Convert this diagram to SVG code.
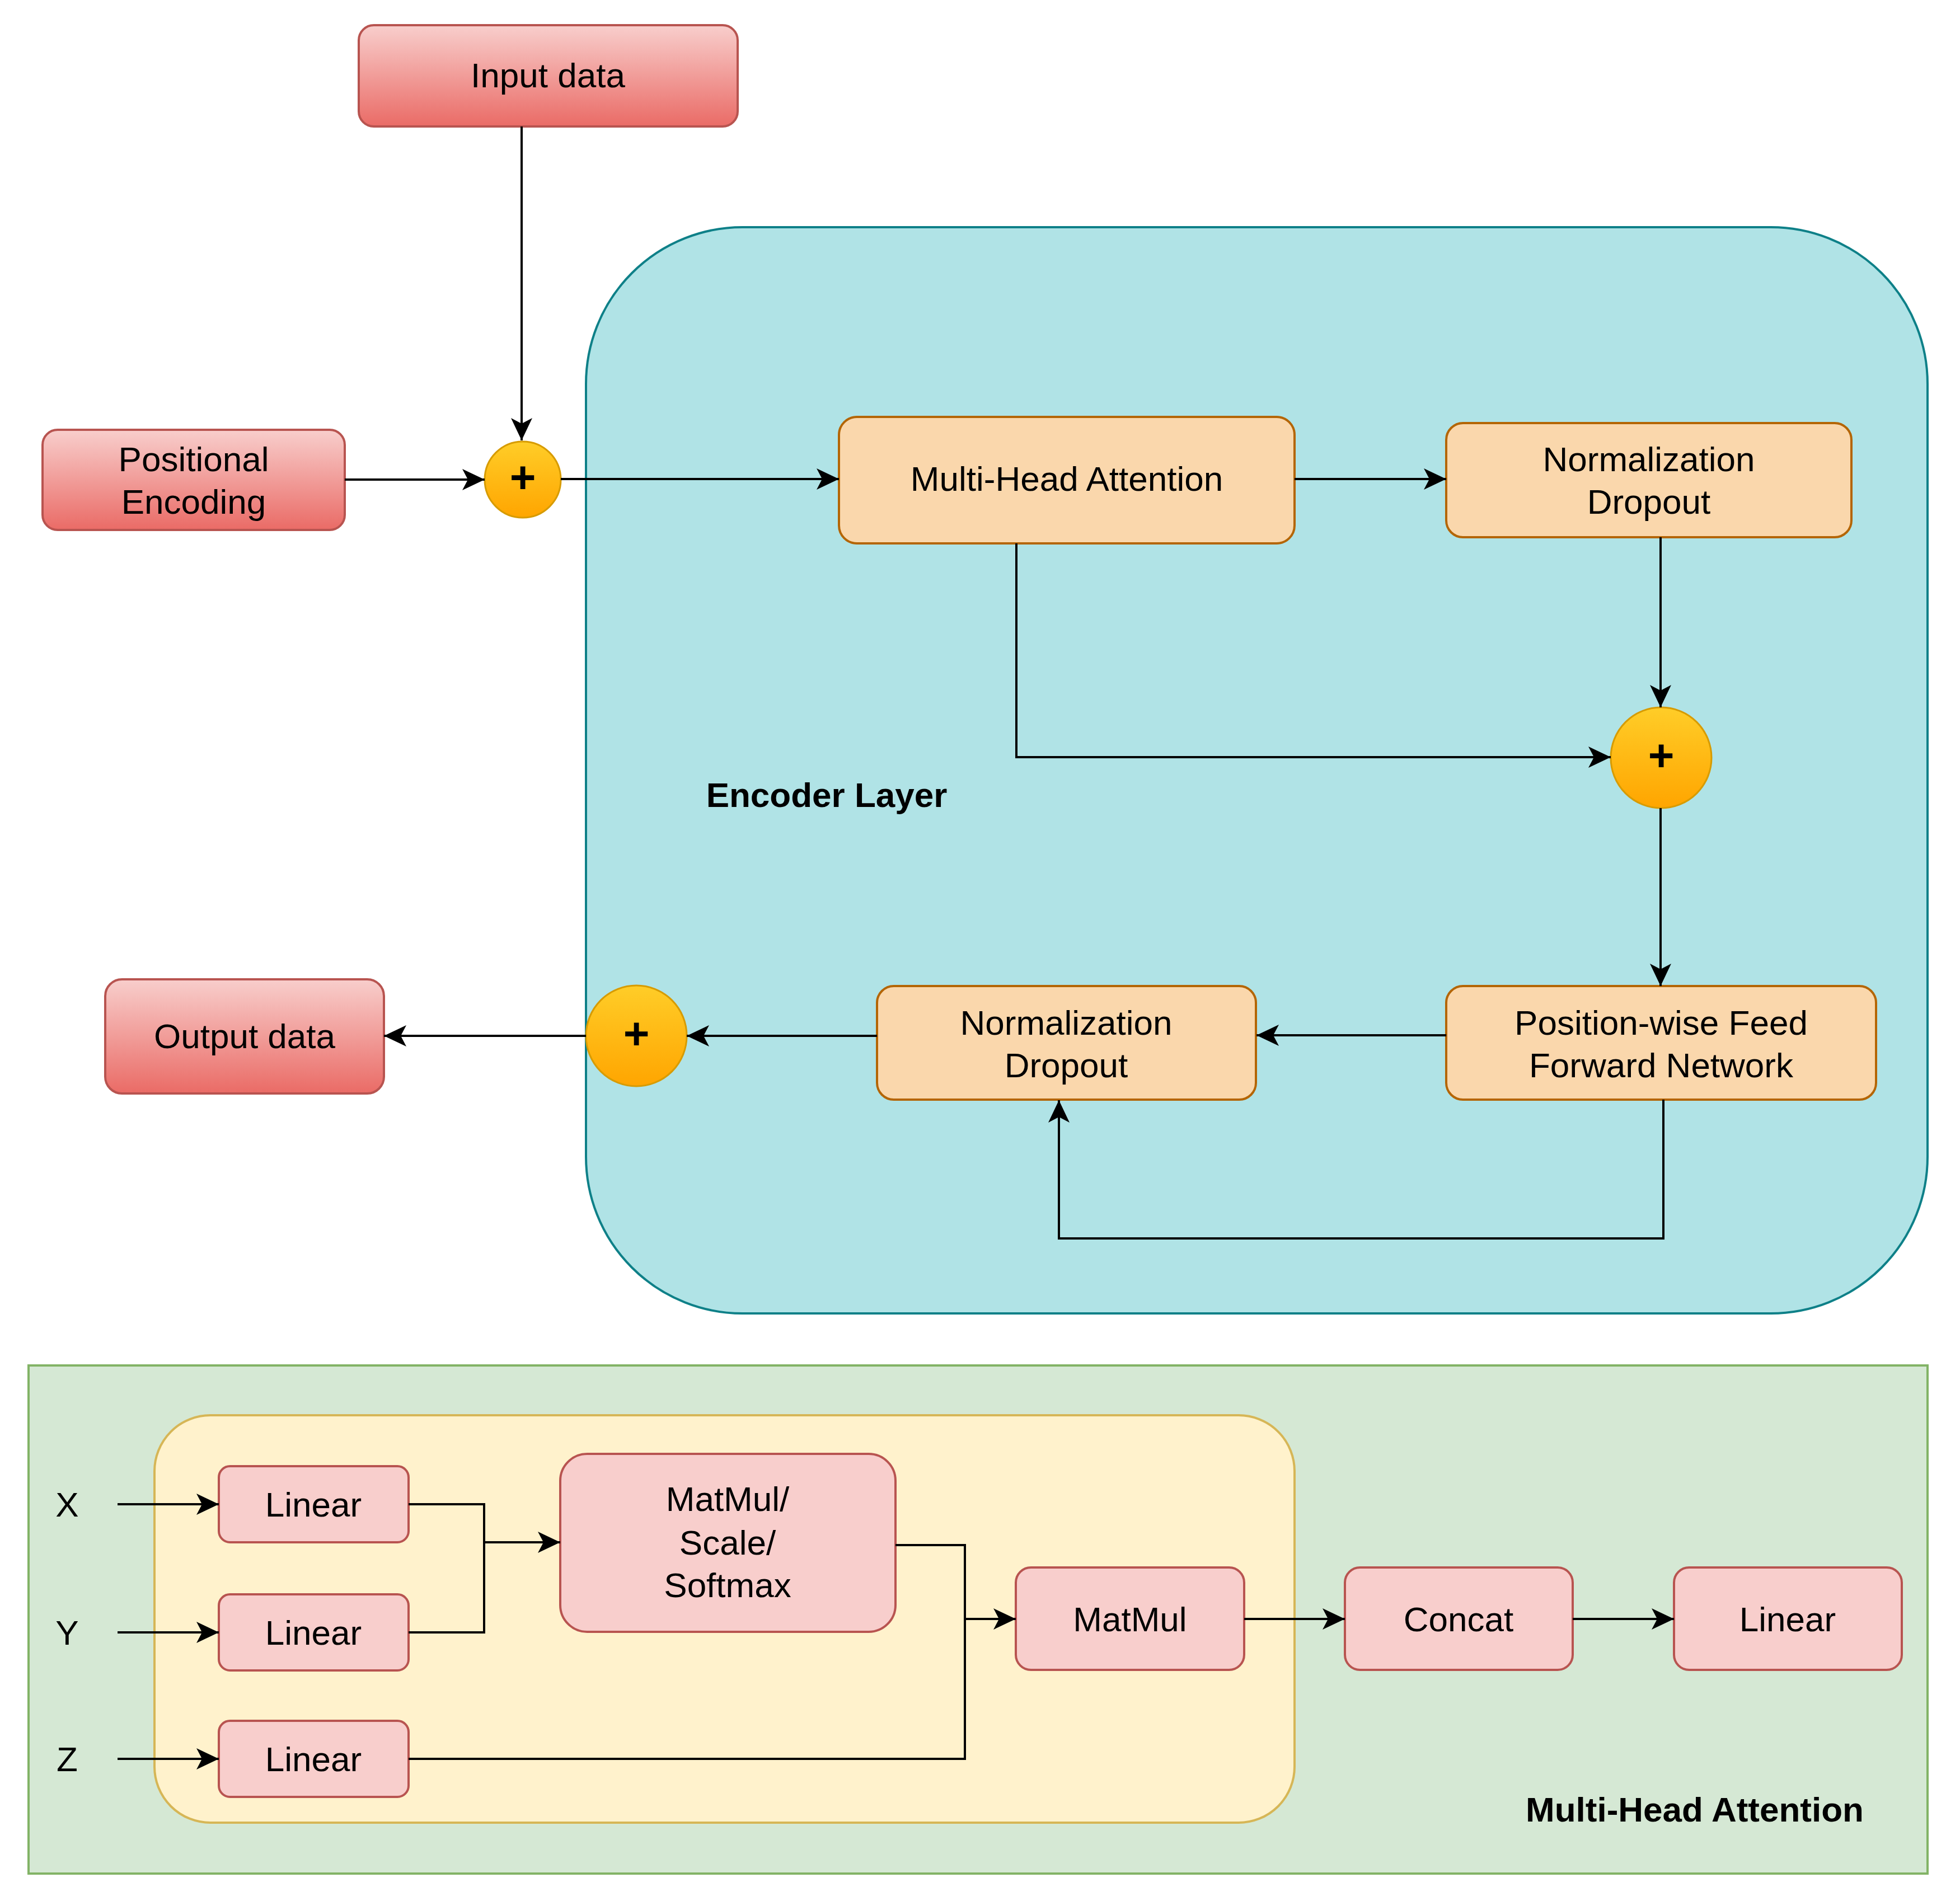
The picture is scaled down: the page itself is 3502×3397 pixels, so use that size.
<svg xmlns="http://www.w3.org/2000/svg" width="3502" height="3397" viewBox="0 0 3502 3397">
<style>
text{font-family:"Liberation Sans",Arial,sans-serif;font-size:62px;fill:#000;text-anchor:middle}
.b{font-weight:bold}
.plus{font-size:80px;font-weight:bold}
.red{fill:url(#gRed);stroke:#b85450;stroke-width:4}
.pink{fill:#f8cecc;stroke:#b85450;stroke-width:4}
.org{fill:#fad7ac;stroke:#b46504;stroke-width:4}
.add{fill:url(#gAdd);stroke:#d79b00;stroke-width:3}
.ln{fill:none;stroke:#000;stroke-width:4}
.ar{marker-end:url(#arr)}
</style>
<defs>
<linearGradient id="gRed" x1="0" y1="0" x2="0" y2="1"><stop offset="0" stop-color="#f8cecc"/><stop offset="1" stop-color="#ea6b66"/></linearGradient>
<linearGradient id="gAdd" x1="0" y1="0" x2="0" y2="1"><stop offset="0" stop-color="#ffcd28"/><stop offset="1" stop-color="#ffa500"/></linearGradient>
<marker id="arr" markerUnits="userSpaceOnUse" markerWidth="44" markerHeight="40" refX="40" refY="19" orient="auto"><path d="M0,0 L40,19 L0,38 L10,19 Z" fill="#000"/></marker>
</defs>
<rect width="3502" height="3397" fill="#fff"/>

<g id="encoder-layer">
<rect x="1047" y="406" width="2397" height="1941" rx="280" ry="280" fill="#b0e3e6" stroke="#0e8088" stroke-width="4"/>
<text class="b" x="1477" y="1442">Encoder Layer</text>
</g>

<g id="mha-panel">
<rect x="51" y="2440" width="3393" height="908" fill="#d5e8d4" stroke="#82b366" stroke-width="4"/>
<rect x="276" y="2529" width="2037" height="728" rx="100" ry="100" fill="#fff2cc" stroke="#d6b656" stroke-width="4"/>
<text class="b" x="3028" y="3255">Multi-Head Attention</text>
</g>

<g id="input-data"><rect class="red" x="641" y="45" width="677" height="181" rx="27"/><text x="979" y="156">Input data</text></g>
<g id="positional-encoding"><rect class="red" x="76" y="768" width="540" height="179" rx="27"/><text x="346" y="842">Positional</text><text x="346" y="918">Encoding</text></g>
<g id="add-1"><circle class="add" cx="934" cy="857" r="68"/><text class="plus" x="934" y="880">+</text></g>
<g id="multi-head-attention"><rect class="org" x="1499" y="745" width="814" height="226" rx="32"/><text x="1906" y="877">Multi-Head Attention</text></g>
<g id="norm-dropout-1"><rect class="org" x="2584" y="756" width="724" height="204" rx="30"/><text x="2946" y="842">Normalization</text><text x="2946" y="918">Dropout</text></g>
<g id="add-2"><circle class="add" cx="2968" cy="1354" r="90"/><text class="plus" x="2968" y="1377">+</text></g>
<g id="ffn"><rect class="org" x="2584" y="1762" width="768" height="203" rx="30"/><text x="2968" y="1849">Position-wise Feed</text><text x="2968" y="1925">Forward Network</text></g>
<g id="norm-dropout-2"><rect class="org" x="1567" y="1762" width="677" height="203" rx="30"/><text x="1905" y="1849">Normalization</text><text x="1905" y="1925">Dropout</text></g>
<g id="add-3"><circle class="add" cx="1137" cy="1851" r="90"/><text class="plus" x="1137" y="1874">+</text></g>
<g id="output-data"><rect class="red" x="188" y="1750" width="498" height="204" rx="30"/><text x="437" y="1873">Output data</text></g>

<g id="label-x"><text x="120" y="2710">X</text></g>
<g id="label-y"><text x="120" y="2939">Y</text></g>
<g id="label-z"><text x="120" y="3165">Z</text></g>
<g id="linear-x"><rect class="pink" x="391" y="2620" width="339" height="136" rx="20"/><text x="560" y="2710">Linear</text></g>
<g id="linear-y"><rect class="pink" x="391" y="2849" width="339" height="136" rx="20"/><text x="560" y="2939">Linear</text></g>
<g id="linear-z"><rect class="pink" x="391" y="3075" width="339" height="136" rx="20"/><text x="560" y="3165">Linear</text></g>
<g id="matmul-scale-softmax"><rect class="pink" x="1001" y="2598" width="599" height="318" rx="48"/><text x="1300" y="2700">MatMul/</text><text x="1300" y="2778">Scale/</text><text x="1300" y="2854">Softmax</text></g>
<g id="matmul"><rect class="pink" x="1815" y="2801" width="408" height="183" rx="27"/><text x="2019" y="2915">MatMul</text></g>
<g id="concat"><rect class="pink" x="2403" y="2801" width="407" height="183" rx="27"/><text x="2606" y="2915">Concat</text></g>
<g id="linear-out"><rect class="pink" x="2991" y="2801" width="407" height="183" rx="27"/><text x="3194" y="2915">Linear</text></g>

<g id="connectors">
<path class="ln ar" d="M932,226 V787"/>
<path class="ln ar" d="M616,857 H866"/>
<path class="ln ar" d="M1002,856 H1499"/>
<path class="ln ar" d="M2313,856 H2584"/>
<path class="ln ar" d="M1816,971 V1353 H2878"/>
<path class="ln ar" d="M2967,960 V1264"/>
<path class="ln ar" d="M2967,1444 V1762"/>
<path class="ln ar" d="M2584,1850 H2245"/>
<path class="ln ar" d="M2972,1965 V2213 H1892 V1966"/>
<path class="ln ar" d="M1567,1851 H1227"/>
<path class="ln ar" d="M1047,1851 H686"/>
<path class="ln ar" d="M210,2688 H391"/>
<path class="ln ar" d="M210,2917 H391"/>
<path class="ln ar" d="M210,3143 H391"/>
<path class="ln" d="M730,2688 H865 V2917 H730"/>
<path class="ln ar" d="M865,2756 H1001"/>
<path class="ln" d="M1600,2761 H1724 V3143 H730"/>
<path class="ln ar" d="M1724,2893 H1815"/>
<path class="ln ar" d="M2223,2893 H2403"/>
<path class="ln ar" d="M2810,2893 H2991"/>
</g>
</svg>
